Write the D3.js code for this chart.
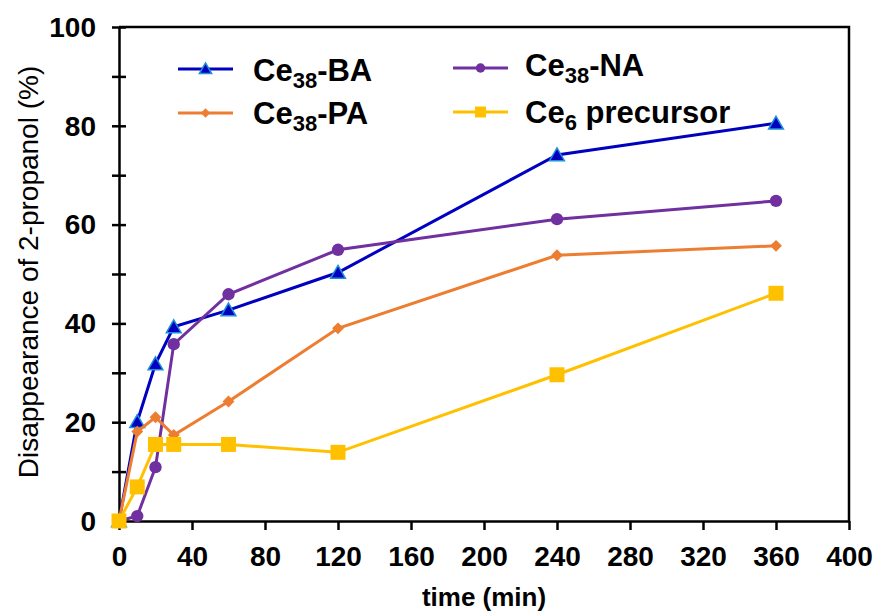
<!DOCTYPE html>
<html lang="en">
<head>
    <meta charset="UTF-8">
    <title>Disappearance of 2-propanol</title>
    <script src="https://d3js.org/d3.v7.min.js"></script>
    <style>
        body { margin: 0; background: #fff; }
        svg { font-family: "Liberation Sans", Arial, sans-serif; }
        .tick-label { font-size: 28px; font-weight: bold; }
        .legend { font-size: 31px; font-weight: bold; }
    </style>
</head>
<body>
    <svg width="881" height="611"></svg>
    <script>
        // time points (min)
        const times = [0, 10, 20, 30, 60, 120, 240, 360];

        // disappearance of 2-propanol (%)
        const ba = [0, 20.1, 31.8, 39.3, 42.7, 50.3, 74.1, 80.5];
        const na = [0, 1.0, 10.9, 35.8, 45.9, 54.9, 61.1, 64.8];
        const pa = [0, 18.1, 21.0, 17.4, 24.2, 39.0, 53.8, 55.7];
        const ce6 = [0, 6.9, 15.5, 15.5, 15.5, 13.9, 29.6, 46.1];

        const xTicks = [0, 40, 80, 120, 160, 200, 240, 280, 320, 360, 400];
        const yTicks = [0, 20, 40, 60, 80, 100];
        const yMinorTicks = [0, 10, 20, 30, 40, 50, 60, 70, 80, 90, 100];

        const series = [
            {name: "BA", sub: "38", pre: "Ce", values: ba, color: "#0000c0", marker: "triangle"},
            {name: "NA", sub: "38", pre: "Ce", values: na, color: "#7030a0", marker: "circle"},
            {name: "PA", sub: "38", pre: "Ce", values: pa, color: "#ed7d31", marker: "diamond"},
            {name: "precursor", sub: "6", pre: "Ce", values: ce6, color: "#ffc000", marker: "square"}
        ];

        const svg = d3.select("svg");

        const x = d3.scaleLinear().domain([0, 400]).range([119, 849]);
        const y = d3.scaleLinear().domain([0, 100]).range([521, 27]);

        // frame (top and right)
        svg.append("path")
            .attr("d", `M${x(0)},${y(100)}H${x(400)}V${y(0)}`)
            .attr("fill", "none")
            .attr("stroke", "#000")
            .attr("stroke-width", 2.5);

        // x axis
        const xAxis = svg.append("g")
            .attr("transform", `translate(0,${y(0)})`)
            .call(d3.axisBottom(x).tickValues(xTicks).tickSize(9).tickSizeOuter(0).tickPadding(16).tickFormat(d3.format("d")));
        xAxis.select(".domain").attr("stroke-width", 2.5);
        xAxis.selectAll(".tick line").attr("stroke-width", 2.5);
        xAxis.selectAll(".tick text").attr("class", "tick-label").attr("fill", "#000");

        // y axis: crossing ticks every 10, labels every 20
        const yAxis = svg.append("g")
            .attr("transform", `translate(${x(0)},0)`)
            .call(d3.axisLeft(y).tickValues(yMinorTicks).tickSize(0).tickSizeOuter(0).tickFormat(""));
        yAxis.select(".domain").attr("stroke-width", 2.5);
        yAxis.selectAll(".tick line")
            .attr("x1", -7).attr("x2", 7)
            .attr("stroke", "#000")
            .attr("stroke-width", 2.5);
        yAxis.selectAll(".tick text").remove();

        svg.append("g")
            .selectAll("text")
            .data(yTicks)
            .join("text")
            .attr("class", "tick-label")
            .attr("x", x(0) - 23)
            .attr("y", d => y(d))
            .attr("dy", "0.35em")
            .attr("text-anchor", "end")
            .text(d => d);

        // axis titles
        svg.append("text")
            .attr("x", (x(0) + x(400)) / 2)
            .attr("y", 606)
            .attr("text-anchor", "middle")
            .style("font-size", "26px")
            .style("font-weight", "bold")
            .text("time (min)");

        svg.append("text")
            .attr("transform", `translate(38,${(y(0) + y(100)) / 2 - 2}) rotate(-90)`)
            .attr("text-anchor", "middle")
            .style("font-size", "28px")
            .text("Disappearance of 2-propanol (%)");

        const markerPath = (type, size) => {
            const sym = {
                triangle: d3.symbolTriangle,
                circle: d3.symbolCircle,
                diamond: d3.symbolDiamond2,
                square: d3.symbolSquare
            }[type];
            return d3.symbol().type(sym).size(size)();
        };
        const markerSize = {triangle: 95, circle: 120, diamond: 90, square: 225};
        const legendSize = {triangle: 65, circle: 70, diamond: 55, square: 120};

        const line = d3.line()
            .x((d, i) => x(times[i]))
            .y(d => y(d));

        series.forEach(s => {
            const g = svg.append("g");
            g.append("path")
                .datum(s.values)
                .attr("d", line)
                .attr("fill", "none")
                .attr("stroke", s.color)
                .attr("stroke-width", 3);
            g.selectAll("path.mark")
                .data(s.values)
                .join("path")
                .attr("class", "mark")
                .attr("transform", (d, i) => `translate(${x(times[i])},${y(d) + (s.marker === "triangle" ? 1.5 : 0)})`)
                .attr("d", markerPath(s.marker, markerSize[s.marker]))
                .attr("fill", s.color)
                .attr("stroke", s.marker === "triangle" ? "#1e90d8" : "none")
                .attr("stroke-width", 1.5);
        });

        // legend
        const legendPos = [
            {lx: 178, ly: 69, tx: 253, ty: 81},
            {lx: 453, ly: 68, tx: 525, ty: 76},
            {lx: 178, ly: 113, tx: 253, ty: 124},
            {lx: 453, ly: 112, tx: 525, ty: 123}
        ];

        series.forEach((s, i) => {
            const p = legendPos[i];
            const g = svg.append("g");
            g.append("line")
                .attr("x1", p.lx).attr("x2", p.lx + 55)
                .attr("y1", p.ly).attr("y2", p.ly)
                .attr("stroke", s.color)
                .attr("stroke-width", 3);
            g.append("path")
                .attr("transform", `translate(${p.lx + 27.5},${p.ly + (s.marker === "triangle" ? 1 : 0)})`)
                .attr("d", markerPath(s.marker, legendSize[s.marker]))
                .attr("fill", s.color)
                .attr("stroke", s.marker === "triangle" ? "#1e90d8" : "none")
                .attr("stroke-width", 1.5);
            const t = g.append("text")
                .attr("class", "legend")
                .attr("x", p.tx)
                .attr("y", p.ty);
            t.append("tspan").text(s.pre);
            t.append("tspan").attr("dy", 7).style("font-size", "22px").text(s.sub);
            t.append("tspan").attr("dy", -7).text(s.name === "precursor" ? " precursor" : "-" + s.name);
        });
    </script>
</body>
</html>
